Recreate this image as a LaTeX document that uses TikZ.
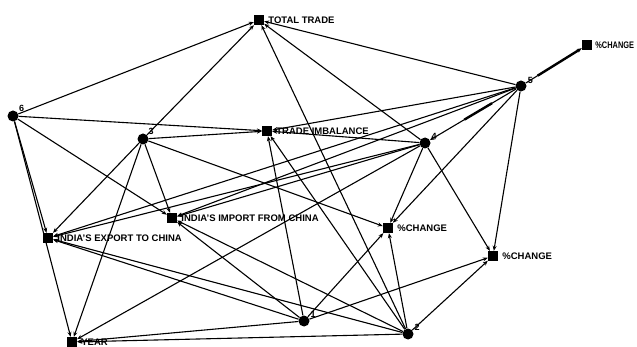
\documentclass[tikz,border=0pt]{standalone}
\usepackage{fontspec}
\setmainfont{Liberation Sans}
\usetikzlibrary{arrows.meta}
\begin{document}
\begin{tikzpicture}[x=1pt,y=-1pt,
  fac/.style={circle,fill=black,minimum size=11pt,inner sep=0pt},
  var/.style={rectangle,fill=black,minimum size=10pt,inner sep=0pt},
  vlab/.style={anchor=west,inner sep=0pt,font=\fontsize{9.5}{10}\selectfont\bfseries},
  flab/.style={font=\fontsize{9}{10}\selectfont\bfseries,inner sep=1pt},
  edge/.style={line width=1.1pt,-{Stealth[length=5pt,width=4pt]}},
  heavy/.style={line width=2.4pt},
]
\useasboundingbox (0,0) rectangle (637,347);
% factor nodes
\node[fac,label={[flab]30:6}] (F6) at (13,116) {};
\node[fac,label={[flab]40:3}] (F3) at (143,139) {};
\node[fac,label={[flab]10:5}] (F5) at (521,86) {};
\node[fac,label={[flab]20:4}] (F4) at (425,143) {};
\node[fac,label={[flab]20:1}] (F1) at (304,321) {};
\node[fac,label={[flab]20:2}] (F2) at (408,334) {};
% variable nodes
\node[var] (TT) at (259,20) {};
\node[var] (PC1) at (587,45) {};
\node[var] (TI) at (267,131) {};
\node[var] (IM) at (172,218) {};
\node[var] (EX) at (48,238) {};
\node[var] (PC2) at (388,228) {};
\node[var] (PC3) at (493,256) {};
\node[var] (YR) at (72,342) {};
% labels
\node[vlab] (TTl) at ([xshift=4pt]TT.east) {TOTAL TRADE};
\node[vlab,xscale=0.78] (PC1l) at ([xshift=3pt]PC1.east) {\%CHANGE};
\node[vlab] (TIl) at ([xshift=4pt]TI.east) {TRADE IMBALANCE};
\node[vlab] (IMl) at ([xshift=4pt]IM.east) {INDIA'S IMPORT FROM CHINA};
\node[vlab] (EXl) at ([xshift=4pt]EX.east) {INDIA'S EXPORT TO CHINA};
\node[vlab] (PC2l) at ([xshift=4pt]PC2.east) {\%CHANGE};
\node[vlab] (PC3l) at ([xshift=4pt]PC3.east) {\%CHANGE};
\node[vlab] (YRl) at ([xshift=4pt]YR.east) {YEAR};
% edges
\foreach \a/\b in {F6/TT,F6/TI,F6/EX,F6/IM,F6/YR,
  F3/TT,F3/TI,F3/EX,F3/YR,F3/IM,F3/PC2,
  F5/PC1,F5/TT,F5/TI,F5/EX,F5/IM,F5/PC2,F5/PC3,F5/F4,
  F4/TT,F4/TI,F4/EX,F4/IM,F4/PC2,F4/PC3,F4/YR,
  F1/TI,F1/EX,F1/IM,F1/YR,F1/PC2,F1/PC3,
  F2/TT,F2/TI,F2/EX,F2/IM,F2/YR,F2/PC2,F2/PC3}
  \draw[edge] (\a) -- (\b);
% heavier stretches of two connectors
\draw[heavy,shorten <=14pt,shorten >=3pt] (F5) -- (PC1);
\draw[heavy,shorten <=28pt,shorten >=40pt] (F5) -- (F4);
\end{tikzpicture}
\end{document}
